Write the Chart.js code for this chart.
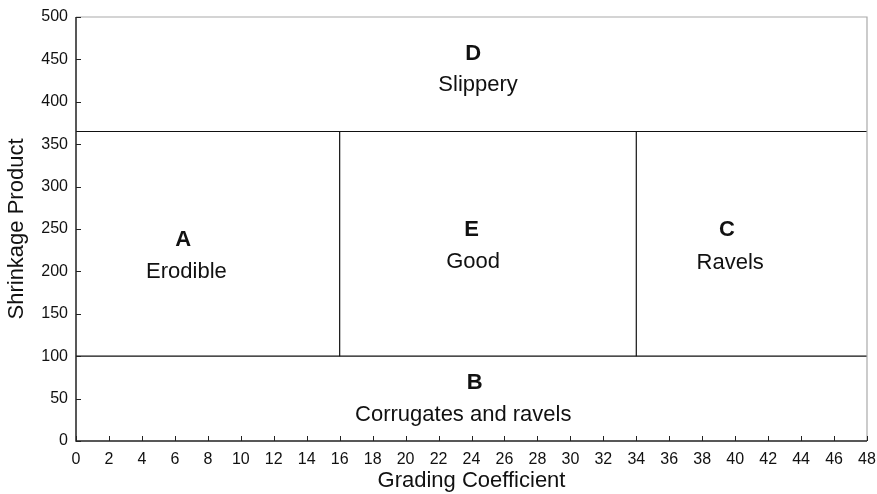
<!DOCTYPE html>
<html>
<head>
<meta charset="utf-8">
<script src="https://cdn.jsdelivr.net/npm/chart.js@4/dist/chart.umd.min.js"></script>
<style>
html,body{margin:0;padding:0;background:#fff;}
#wrap{width:877px;height:494px;position:relative;}
</style>
</head>
<body>
<div id="wrap"><canvas id="c" width="877" height="494"></canvas></div>
<script>
// Tick labels
const xTicks = [0,2,4,6,8,10,12,14,16,18,20,22,24,26,28,30,32,34,36,38,40,42,44,46,48];
const yTicks = [0,50,100,150,200,250,300,350,400,450,500];

// Boundary lines (x, y)
const upperLineX = [0, 48];
const upperLineY = [365, 365];
const lowerLineX = [0, 48];
const lowerLineY = [100, 100];
const leftDividerX = [16, 16];
const leftDividerY = [100, 365];
const rightDividerX = [34, 34];
const rightDividerY = [100, 365];

// Region labels
const regionLetters = ['D', 'A', 'E', 'C', 'B'];
const regionNames = ['Slippery', 'Erodible', 'Good', 'Ravels', 'Corrugates and ravels'];
const letterX = [24.1, 6.5, 24.0, 39.5, 24.2];
const letterY = [456, 237, 249, 249, 68];
const nameX = [24.4, 6.7, 24.1, 39.7, 23.5];
const nameY = [420, 199, 211, 210, 31];

const FONT = "'Liberation Sans', Arial, Helvetica, sans-serif";

function pts(xs, ys){ return xs.map((x,i)=>({x:x, y:ys[i]})); }
function lineDs(xs, ys){
  return { data: pts(xs, ys), showLine: true, borderColor: '#111', borderWidth: 1.2,
           pointRadius: 0, fill: false, tension: 0 };
}

const framePlugin = {
  id: 'frame',
  afterDatasetsDraw(chart){
    const {ctx, chartArea: a, scales} = chart;
    ctx.save();
    ctx.strokeStyle = '#aaa';
    ctx.lineWidth = 1.2;
    ctx.beginPath();
    ctx.moveTo(a.left, a.top); ctx.lineTo(a.right, a.top); ctx.lineTo(a.right, a.bottom);
    ctx.stroke();
    ctx.strokeStyle = '#222';
    ctx.lineWidth = 1.5;
    ctx.beginPath();
    ctx.moveTo(a.left, a.top); ctx.lineTo(a.left, a.bottom); ctx.lineTo(a.right, a.bottom);
    ctx.stroke();
    ctx.lineWidth = 1;
    ctx.beginPath();
    scales.x.ticks.forEach(t=>{
      const px = Math.round(scales.x.getPixelForValue(t.value))+0.5;
      ctx.moveTo(px, a.bottom); ctx.lineTo(px, a.bottom-5);
    });
    scales.y.ticks.forEach(t=>{
      const py = Math.round(scales.y.getPixelForValue(t.value))+0.5;
      ctx.moveTo(a.left, py); ctx.lineTo(a.left+5, py);
    });
    ctx.stroke();
    ctx.fillStyle = '#111';
    ctx.textAlign = 'center';
    ctx.textBaseline = 'middle';
    regionLetters.forEach((t,i)=>{
      ctx.font = "bold 22px " + FONT;
      ctx.fillText(t, scales.x.getPixelForValue(letterX[i]), scales.y.getPixelForValue(letterY[i]));
      ctx.font = "22px " + FONT;
      ctx.fillText(regionNames[i], scales.x.getPixelForValue(nameX[i]), scales.y.getPixelForValue(nameY[i]));
    });
    ctx.restore();
  }
};

new Chart(document.getElementById('c'), {
  type: 'scatter',
  data: {
    datasets: [
      lineDs(upperLineX, upperLineY),
      lineDs(lowerLineX, lowerLineY),
      lineDs(leftDividerX, leftDividerY),
      lineDs(rightDividerX, rightDividerY)
    ]
  },
  options: {
    responsive: false,
    animation: false,
    layout: { padding: { left: 0, right: 10, top: 17, bottom: 0 } },
    plugins: { legend: { display: false }, tooltip: { enabled: false } },
    scales: {
      x: {
        type: 'linear', min: 0, max: 48,
        afterBuildTicks(s){ s.ticks = xTicks.map(v=>({value:v})); },
        afterFit(s){ s.height = 53; s.paddingRight = 0; s.paddingLeft = 0; },
        grid: { display: false, drawTicks: false },
        border: { display: false },
        ticks: { color: '#111', font: { family: FONT, size: 16 }, padding: 9, maxRotation: 0, autoSkip: false },
        title: { display: true, text: 'Grading Coefficient', color: '#111',
                 font: { family: FONT, size: 22 }, padding: { top: 0, bottom: 0 } }
      },
      y: {
        type: 'linear', min: 0, max: 500,
        afterBuildTicks(s){ s.ticks = yTicks.map(v=>({value:v})); },
        afterFit(s){ s.width = 76; s.paddingTop = 0; s.paddingBottom = 0; },
        grid: { display: false, drawTicks: false },
        border: { display: false },
        ticks: { color: '#111', font: { family: FONT, size: 16 }, padding: 8, autoSkip: false },
        title: { display: true, text: 'Shrinkage Product', color: '#111',
                 font: { family: FONT, size: 22 }, padding: { top: 4, bottom: 0 } }
      }
    }
  },
  plugins: [framePlugin]
});
</script>
</body>
</html>
